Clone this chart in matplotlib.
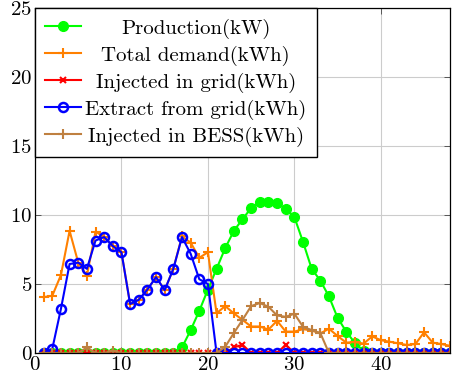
import numpy as np
import matplotlib
matplotlib.use("Agg")
import matplotlib.pyplot as plt

plt.rcParams["font.family"] = "cmr10"
plt.rcParams["axes.formatter.use_mathtext"] = True

# ----------------------------------------------------------------------
# data: one value per time step 1..48
# ----------------------------------------------------------------------
steps = np.arange(1, 49)

production = [0, 0, 0, 0, 0, 0, 0, 0, 0, 0, 0, 0, 0, 0, 0, 0,
              0.4, 1.65, 3.05, 4.6, 6.1, 7.6, 8.85, 9.7, 10.5, 10.95, 10.95, 10.85,
              10.45, 9.85, 8.05, 6.1, 5.25, 4.1, 2.55, 1.55, 0.72, 0.15,
              0, 0, 0, 0, 0, 0, 0, 0, 0, 0]

demand = [4.05, 4.15, 5.65, 8.85, 6.55, 5.6, 8.8, 8.4, 7.75, 7.3, 3.55, 3.85,
          4.6, 5.5, 4.55, 6.1, 8.45, 8.0, 6.9, 7.3, 2.88, 3.4, 2.87, 2.4,
          1.92, 1.92, 1.7, 2.33, 1.55, 1.55, 1.73, 1.63, 1.42, 1.76, 1.23, 0.75,
          0.8, 0.68, 1.2, 0.93, 0.82, 0.7, 0.58, 0.65, 1.5, 0.75, 0.65, 0.52]

injected_grid = [0] * 22 + [0.4, 0.6, 0, 0, 0, 0, 0.6] + [0] * 19

extract_grid = [0, 0.3, 3.2, 6.45, 6.55, 6.1, 8.15, 8.4, 7.75, 7.3, 3.55, 3.85,
                4.6, 5.5, 4.55, 6.1, 8.4, 7.2, 5.35, 5.0] + [0] * 28

injected_bess = ([0, 0, 0, 0, 0, 0.4, 0, 0, 0.15, 0] + [0] * 11 +
                 [0.45, 1.45, 2.4, 3.4, 3.62, 3.35, 2.72, 2.62, 2.85, 1.9, 1.66, 1.45]
                 + [0] * 15)

labels = ["Production(kW)", "Total demand(kWh)", "Injected in grid(kWh)",
          "Extract from grid(kWh)", "Injected in BESS(kWh)"]

# ----------------------------------------------------------------------
fig = plt.figure(figsize=(4.55, 3.85), dpi=100)
ax = fig.add_axes([35 / 455, 32 / 385, 415 / 455, 345 / 385])

lw = 1.5
ax.plot(steps, production, color="#00ff00", lw=lw, marker="o", ms=7,
        label=labels[0])
ax.plot(steps, demand, color="#ff8000", lw=lw, marker="+", ms=7, mew=1.5,
        label=labels[1])
ax.plot(steps, injected_grid, color="#ff0000", lw=lw, marker="x", ms=4.5, mew=1.5,
        label=labels[2])
ax.plot(steps, extract_grid, color="#0000ff", lw=lw, marker="o", ms=6.5, mew=1.8,
        mfc="none", label=labels[3])
ax.plot(steps, injected_bess, color="#bf8040", lw=lw, marker="+", ms=7, mew=1.5,
        label=labels[4])

ax.set_xlim(0, 48)
ax.set_ylim(0, 25)
ax.set_xticks([0, 10, 20, 30, 40])
ax.set_yticks([0, 5, 10, 15, 20, 25])
ax.grid(color="#cccccc", lw=0.8)
ax.set_axisbelow(True)
ax.tick_params(direction="in", top=True, right=True, labelsize=15, length=4,
               width=0.6, color="#444444", pad=2)
for s in ax.spines.values():
    s.set_linewidth(0.9)

leg = ax.legend(loc="upper left", fontsize=15, borderaxespad=0, frameon=True,
                fancybox=False, framealpha=1, edgecolor="black", numpoints=1,
                handlelength=1.7, handletextpad=0.2, labelspacing=0.33,
                borderpad=0.5)
leg.get_frame().set_linewidth(1.0)

# centre the legend labels like pgfplots does
fig.canvas.draw()
r = fig.canvas.get_renderer()
widths = [t.get_window_extent(r).width for t in leg.get_texts()]
wmax = max(widths)
for t, w in zip(leg.get_texts(), widths):
    t.set_x((wmax - w) / 2)

fig.savefig("out.png", dpi=100)
